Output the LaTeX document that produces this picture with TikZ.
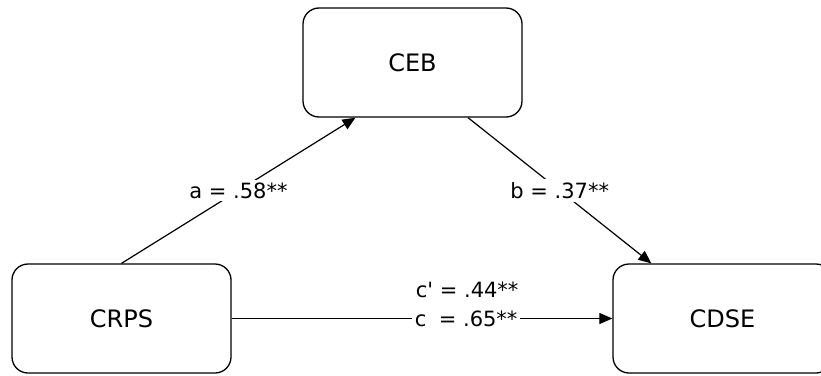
\documentclass[tikz,border=0pt]{standalone}
\usepackage{fontspec}
\setmainfont{DejaVu Sans}
\usetikzlibrary{arrows.meta,calc}
\begin{document}
\begin{tikzpicture}[x=1pt,y=-1pt,
  box/.style={draw,line width=1.3pt,rounded corners=16pt,minimum width=219pt,minimum height=109pt,inner sep=0pt,font=\fontsize{24}{28}\selectfont},
  conn/.style={line width=1.2pt,-{Triangle[length=13pt,width=11pt]}},
  lbl/.style={fill=white,inner sep=3pt,font=\fontsize{21}{25}\selectfont}]
\useasboundingbox (0,0) rectangle (821,375);
\node[box] (CEB) at (412.5,62.5) {CEB};
\node[box] (CRPS) at (121.5,318.5) {CRPS};
\node[box] (CDSE) at (722.5,318.5) {CDSE};
\draw[conn] (CRPS.north) -- node[lbl] (la) {a = .58**} ($(CEB.south)+(-57,0)$);
\draw[conn] ($(CEB.south)+(55.5,0)$) -- node[lbl] (lb) {b = .37**} ($(CDSE.north west)+(39,0)$);
\draw[conn] (CRPS.east) -- node[lbl,pos=0.616] (lc) {c\phantom{\textquotesingle} = .65**} (CDSE.west);
\node[lbl,fill=none] (lcp) at ($(lc.center)+(1,-29)$) {c\textquotesingle{} = .44**};
\end{tikzpicture}
\end{document}
